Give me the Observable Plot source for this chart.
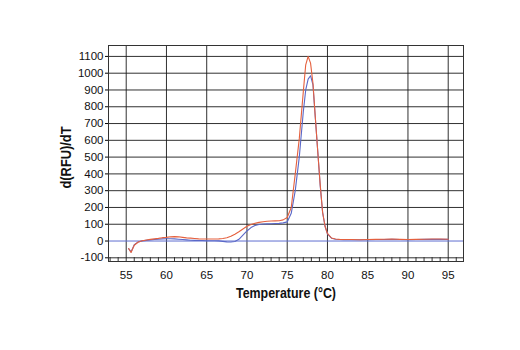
<!DOCTYPE html>
<html><head><meta charset="utf-8">
<script src="https://cdn.jsdelivr.net/npm/d3@7"></script>
<script src="https://cdn.jsdelivr.net/npm/@observablehq/plot@0.6"></script>
<style>
html,body{margin:0;padding:0;background:#fff;}
svg{font-family:"Liberation Sans Narrow","Arial Narrow","Liberation Sans",Arial,sans-serif;}
</style></head>
<body><div id="chart"></div>
<script>
const temps = [55.3,55.6,56.0,56.5,57,57.5,58,58.5,59,59.5,60,60.5,61,61.5,62,62.5,63,63.5,64,64.5,65,65.5,66,66.5,67,67.5,68,68.5,69,69.5,70,70.5,71,71.5,72,72.5,73,73.5,74,74.5,75,75.5,76,76.5,77,77.3,77.6,77.9,78.2,78.5,78.8,79.1,79.4,79.7,80,80.5,81,81.5,82,83,84,85,86,87,88,89,90,91,92,93,94,95];
const redSeries = [-45,-68,-25,-6,2,6,10,13,16,20,22,25,26,25,22,19,17,15,13,12,12,12,12,13,15,20,28,40,55,72,88,98,106,111,115,118,119,120,121,126,140,200,400,610,890,1050,1100,1060,940,730,530,335,170,88,45,18,12,10,9,9,8,9,10,11,12,10,9,10,11,12,12,11];
const blueSeries = [-45,-65,-22,-5,1,4,7,9,11,13,14,14,13,11,9,7,5,4,3,3,2,2,2,1,-2,-5,-6,-3,10,35,60,80,92,98,101,102,103,104,105,108,114,165,300,500,770,900,965,985,930,730,530,330,170,88,43,17,11,9,8,8,8,8,9,9,10,9,8,9,10,10,11,10];
const xTicks = [55,60,65,70,75,80,85,90,95];
const xMinor = [53,54,56,57,58,59,61,62,63,64,66,67,68,69,71,72,73,74,76,77,78,79,81,82,83,84,86,87,88,89,91,92,93,94,96];
const yTicks = [-100,0,100,200,300,400,500,600,700,800,900,1000,1100];
const threshold = [0];
const xTitle = "Temperature (°C)";
const yTitle = "d(RFU)/dT";

const red = temps.map((t,i)=>({t, v: redSeries[i]}));
const blue = temps.map((t,i)=>({t, v: blueSeries[i]}));

const chart = Plot.plot({
  width: 520, height: 350,
  marginLeft: 108, marginRight: 57, marginTop: 45, marginBottom: 89,
  x: {domain: [52.8, 96.9]},
  y: {domain: [-122, 1165]},
  marks: [
    Plot.ruleX(xTicks, {stroke: "#1a1a1a", strokeWidth: 0.9}),
    Plot.ruleY(yTicks.filter(d => d !== 0), {stroke: "#1a1a1a", strokeWidth: 0.9}),
    Plot.ruleY(threshold, {stroke: "#5f6fd0", strokeWidth: 1}),
    Plot.line(blue, {x: "t", y: "v", stroke: "#5a68c8", strokeWidth: 1.1}),
    Plot.line(red, {x: "t", y: "v", stroke: "#e5603e", strokeWidth: 1.1}),
    Plot.frame({stroke: "#333", strokeWidth: 1}),
    Plot.axisX({ticks: xMinor, tickSize: 4, dy: -4, text: null, stroke: "#333", label: null}),
    Plot.axisX({ticks: xTicks, tickSize: 0, tickPadding: 9, fontSize: 11.5, label: null, fill: "#111", tickFormat: d => String(d)}),
    Plot.axisY({ticks: yTicks, tickSize: 3, tickPadding: 2, fontSize: 11.5, label: null, fill: "#111", tickFormat: d => String(d)}),
    Plot.text([xTitle], {frameAnchor: "bottom", dy: 36, fontSize: 15, fontWeight: "bold", fill: "#111", className: "xtitle"}),
    Plot.text([yTitle], {frameAnchor: "left", dx: -42, dy: 35, rotate: -90, fontSize: 15, fontWeight: "bold", fill: "#111", className: "ytitle"})
  ]
});
document.getElementById("chart").appendChild(chart);
// condense the axis titles to match the narrow typeface of the reference
d3.select(chart).selectAll(".xtitle text").attr("textLength", 100).attr("lengthAdjust", "spacingAndGlyphs");
d3.select(chart).selectAll(".ytitle text").attr("textLength", 62).attr("lengthAdjust", "spacingAndGlyphs");
</script></body></html>
